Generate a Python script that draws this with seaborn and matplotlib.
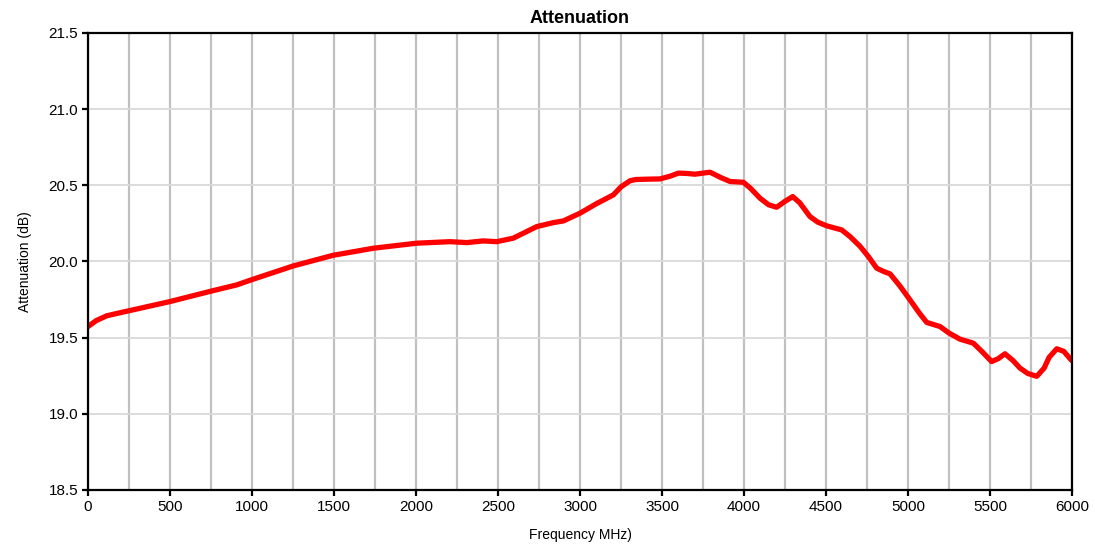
import matplotlib
matplotlib.use("Agg")
import matplotlib.pyplot as plt
import seaborn as sns
import pandas as pd
from matplotlib.ticker import MultipleLocator, FormatStrFormatter

# Attenuation readings
freq_mhz = [0, 50, 113, 180, 256, 500, 764, 906, 1008, 1252, 1496, 1740, 2004,
            2207, 2309, 2411, 2492, 2593, 2736, 2837, 2898, 3000, 3101, 3203,
            3250, 3305, 3340, 3400, 3488, 3550, 3600, 3650, 3701, 3750, 3793,
            3860, 3915, 3996, 4040, 4098, 4150, 4199, 4250, 4297, 4340, 4402,
            4450, 4504, 4596, 4650, 4707, 4760, 4809, 4850, 4890, 4950, 5012,
            5070, 5114, 5195, 5250, 5317, 5398, 5450, 5510, 5550, 5591, 5640,
            5683, 5730, 5785, 5830, 5860, 5907, 5950, 5998]
atten_db = [19.573, 19.612, 19.643, 19.660, 19.678, 19.737, 19.809, 19.846,
            19.884, 19.971, 20.041, 20.087, 20.120, 20.130, 20.124, 20.135,
            20.130, 20.153, 20.229, 20.255, 20.266, 20.317, 20.380, 20.437,
            20.490, 20.530, 20.538, 20.540, 20.542, 20.560, 20.580, 20.578,
            20.573, 20.580, 20.586, 20.550, 20.525, 20.520, 20.480, 20.415,
            20.372, 20.356, 20.395, 20.426, 20.385, 20.295, 20.258, 20.234,
            20.207, 20.160, 20.100, 20.030, 19.956, 19.935, 19.919, 19.840,
            19.748, 19.660, 19.600, 19.573, 19.530, 19.490, 19.464, 19.410,
            19.343, 19.362, 19.394, 19.350, 19.300, 19.265, 19.246, 19.300,
            19.370, 19.427, 19.410, 19.350]

df = pd.DataFrame({"freq": freq_mhz, "att": atten_db})

sns.set_theme(style="white")
plt.rcParams["font.family"] = ["Liberation Sans", "DejaVu Sans"]
plt.rcParams["text.color"] = "black"
plt.rcParams["axes.labelcolor"] = "black"
plt.rcParams["xtick.color"] = "black"
plt.rcParams["ytick.color"] = "black"

fig = plt.figure(figsize=(10.95, 5.46), dpi=100)
ax = fig.add_axes([0.0804, 0.1026, 0.8986, 0.837])

sns.lineplot(data=df, x="freq", y="att", color="#ff0000", linewidth=3.8,
             solid_joinstyle="round", solid_capstyle="round", ax=ax)

ax.set_xlim(0, 6000)
ax.set_ylim(18.5, 21.5)
ax.xaxis.set_major_locator(MultipleLocator(500))
ax.xaxis.set_minor_locator(MultipleLocator(250))
ax.yaxis.set_major_locator(MultipleLocator(0.5))
ax.yaxis.set_major_formatter(FormatStrFormatter("%.1f"))

ax.grid(which="major", axis="x", color="#c0c0c0", linewidth=1.6)
ax.grid(which="minor", axis="x", color="#c0c0c0", linewidth=1.6)
ax.grid(which="major", axis="y", color="#d9d9d9", linewidth=1.3)
ax.set_axisbelow(True)

for s in ax.spines.values():
    s.set_color("black")
    s.set_linewidth(1.6)

ax.tick_params(axis="both", which="major", direction="out", length=4, width=1.6,
               color="black", labelcolor="black", labelsize=11, pad=3,
               left=True, bottom=True)
ax.tick_params(axis="x", which="minor", length=0)

ax.set_title("Attenuation", fontsize=13, fontweight="bold", pad=7, color="black")
ax.set_xlabel("Frequency MHz)", fontsize=10, labelpad=10)
ax.set_ylabel("Attenuation (dB)", fontsize=10, labelpad=12)

fig.savefig("out.png", dpi=100)
